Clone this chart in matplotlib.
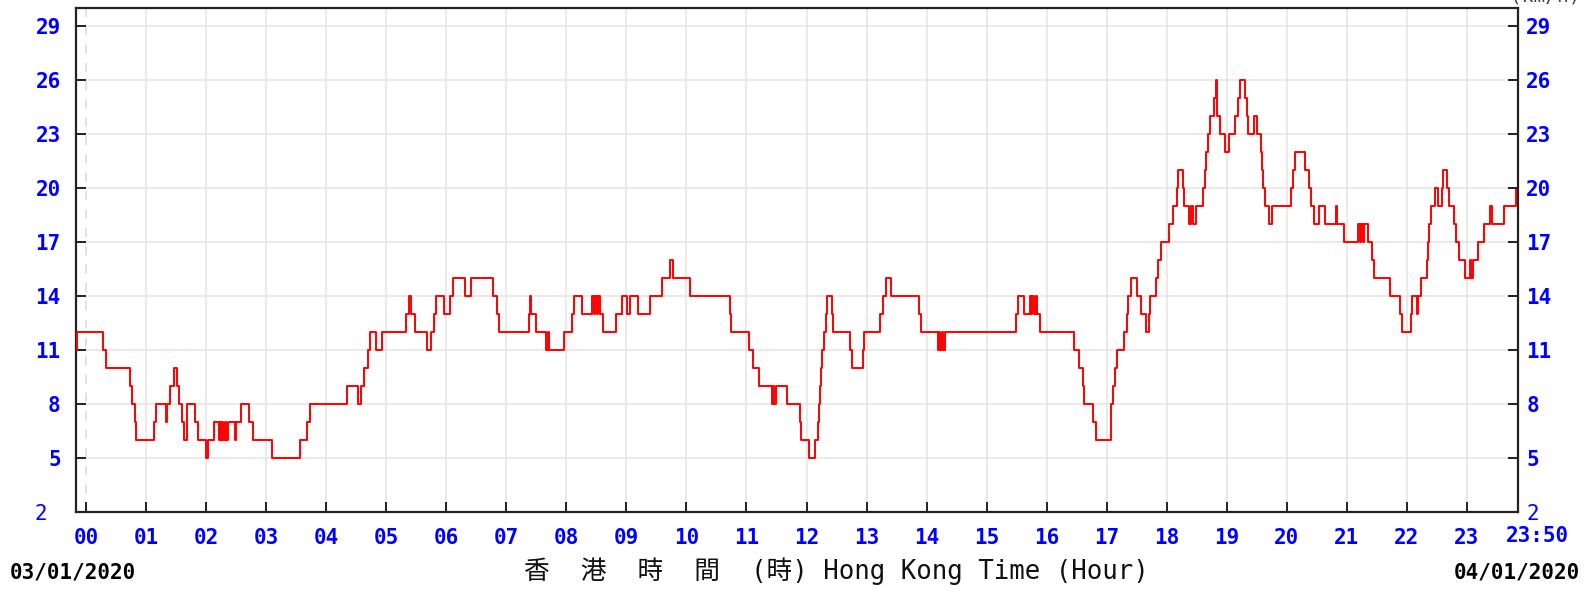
import matplotlib.pyplot as plt

# wind speed record: minute of day where the reading changes, and the new reading
change_min = [-10, -9, 17, 20, 44, 46, 49, 50, 68, 70, 80, 81, 84, 88, 91, 93, 96, 98,
              101, 109, 112, 120, 122, 128, 133, 134, 135, 136, 137, 139, 140, 142,
              149, 150, 155, 163, 167, 186, 214, 221, 224, 261, 272, 275, 278, 282,
              284, 290, 296, 320, 323, 325, 329, 341, 345, 348, 350, 358, 364, 367,
              379, 385, 407, 411, 413, 443, 444, 445, 450, 460, 462, 463, 478, 486,
              488, 496, 506, 508, 509, 511, 512, 514, 517, 530, 536, 541, 544, 552,
              564, 576, 584, 587, 604, 644, 645, 663, 667, 673, 686, 687, 688, 690,
              701, 713, 714, 722, 728, 731, 732, 733, 734, 735, 737, 739, 740, 745,
              746, 763, 765, 776, 777, 793, 796, 799, 804, 832, 834, 851, 852, 853,
              855, 856, 858, 929, 931, 937, 943, 944, 945, 947, 949, 950, 953, 987,
              992, 996, 997, 1006, 1009, 1024, 1026, 1028, 1030, 1037, 1040, 1041,
              1044, 1050, 1054, 1059, 1062, 1063, 1069, 1071, 1074, 1082, 1086, 1090,
              1091, 1096, 1097, 1102, 1104, 1106, 1109, 1116, 1118, 1119, 1121, 1123,
              1127, 1129, 1130, 1133, 1138, 1142, 1148, 1151, 1153, 1158, 1160, 1161,
              1167, 1170, 1174, 1175, 1176, 1178, 1182, 1185, 1204, 1206, 1208, 1218,
              1222, 1224, 1227, 1232, 1238, 1249, 1250, 1257, 1271, 1273, 1274, 1276,
              1277, 1281, 1285, 1287, 1303, 1313, 1315, 1324, 1325, 1330, 1331, 1334,
              1340, 1341, 1342, 1344, 1348, 1351, 1355, 1356, 1360, 1362, 1367, 1369,
              1372, 1378, 1383, 1384, 1386, 1391, 1397, 1403, 1405, 1417, 1429, 1431]
speed = [11, 12, 11, 10, 9, 8, 7, 6, 7, 8, 7, 8, 9, 10, 9, 8, 7, 6,
         8, 7, 6, 5, 6, 7, 6, 7, 6, 7, 6, 7, 6, 7,
         6, 7, 8, 7, 6, 5, 6, 7, 8, 9, 8, 9, 10, 11,
         12, 11, 12, 13, 14, 13, 12, 11, 12, 13, 14, 13, 14, 15,
         14, 15, 14, 13, 12, 13, 14, 13, 12, 11, 12, 11, 12, 13,
         14, 13, 14, 13, 14, 13, 14, 13, 12, 13, 14, 13, 14, 13,
         14, 15, 16, 15, 14, 13, 12, 11, 10, 9, 8, 9, 8, 9,
         8, 7, 6, 5, 6, 7, 8, 9, 10, 11, 12, 13, 14, 13,
         12, 11, 10, 11, 12, 13, 14, 15, 14, 13, 12, 11, 12, 11,
         12, 11, 12, 13, 14, 13, 14, 13, 14, 13, 14, 13, 12, 11,
         10, 9, 8, 7, 6, 8, 9, 10, 11, 12, 13, 14,
         15, 14, 13, 12, 13, 14, 15, 16, 17, 18, 19, 20,
         21, 20, 19, 18, 19, 18, 19, 20, 21, 22, 23, 24,
         25, 26, 24, 23, 22, 23, 24, 25, 26, 25, 24, 23,
         24, 23, 22, 21, 20, 19, 18, 19, 20, 21, 22, 21,
         20, 19, 18, 19, 18, 19, 18, 17, 18, 17, 18, 17,
         18, 17, 16, 15, 14, 13, 12, 13, 14, 13, 14, 15,
         16, 17, 18, 19, 20, 19, 20, 21, 20, 19, 18, 17,
         16, 15, 16, 15, 16, 17, 18, 19, 18, 19, 20, 20]

hours = list(range(24))
hour_labels = ['%02d' % h for h in hours]
y_ticks = [2, 5, 8, 11, 14, 17, 20, 23, 26, 29]
left_labels = ['2 '] + [str(v) for v in y_ticks[1:]]
right_labels = [str(v) for v in y_ticks]

mono = 'DejaVu Sans Mono'
blue = '#0000ff'

fig = plt.figure(figsize=(15.91, 5.91), dpi=100)
ax = fig.add_axes([76 / 1591, 1 - 512.3 / 591, 1442 / 1591, 504.3 / 591])

ax.plot(change_min, speed, drawstyle='steps-post', color='#ff0000', lw=1.4, zorder=3)

ax.set_xlim(-10, 1431)
ax.set_ylim(2, 30)

# hour ticks and grid
ax.set_xticks([h * 60 for h in hours])
ax.set_xticklabels(hour_labels, family=mono, fontweight='bold', color=blue, fontsize=15)
ax.set_yticks(y_ticks)
ax.set_yticklabels(left_labels, family=mono, fontweight='bold', color=blue, fontsize=15)
ax.get_yticklabels()[0].set_fontweight('normal')

ax.set_axisbelow(True)
ax.grid(True, color='#e4e4e4', lw=1.1)
ax.get_xgridlines()[0].set_linestyle((0, (6, 6)))
ax.get_xgridlines()[0].set_color('#d8d8d8')

ax.tick_params(axis='both', direction='in', length=7, width=1.4, color='#222222')
ax.tick_params(axis='x', pad=11)
ax.tick_params(axis='y', pad=11)
for s in ax.spines.values():
    s.set_linewidth(1.6)
    s.set_color('#222222')

# right hand axis with the same scale
ax2 = ax.twinx()
ax2.set_ylim(2, 30)
ax2.set_yticks(y_ticks)
ax2.set_yticklabels(right_labels, family=mono, fontweight='bold', color=blue, fontsize=15)
ax2.get_yticklabels()[0].set_fontweight('normal')
ax2.tick_params(axis='y', direction='in', length=7, width=1.4, color='#222222', pad=6)
for s in ax2.spines.values():
    s.set_visible(False)

fig.text(1537 / 1591, 1 - 535.5 / 591, '23:50', family=mono, fontweight='bold',
         color=blue, fontsize=15, ha='center', va='center')
fig.text(10 / 1591, 1 - 572 / 591, '03/01/2020', family=mono, fontweight='bold',
         color='black', fontsize=15, ha='left', va='center')
fig.text(1580 / 1591, 1 - 572 / 591, '04/01/2020', family=mono, fontweight='bold',
         color='black', fontsize=15, ha='right', va='center')
fig.text(836 / 1591, 1 - 571 / 591, '香  港  時  間  (時) Hong Kong Time (Hour)',
         family=[mono, 'Noto Sans CJK TC'], color='#111111', fontsize=18.5,
         ha='center', va='center')
fig.text(1545 / 1591, 1 - 1.5 / 591, '(km/h)', family=mono, color='#444444',
         fontsize=14, ha='center', va='baseline')

fig.savefig('out.png', dpi=100)
